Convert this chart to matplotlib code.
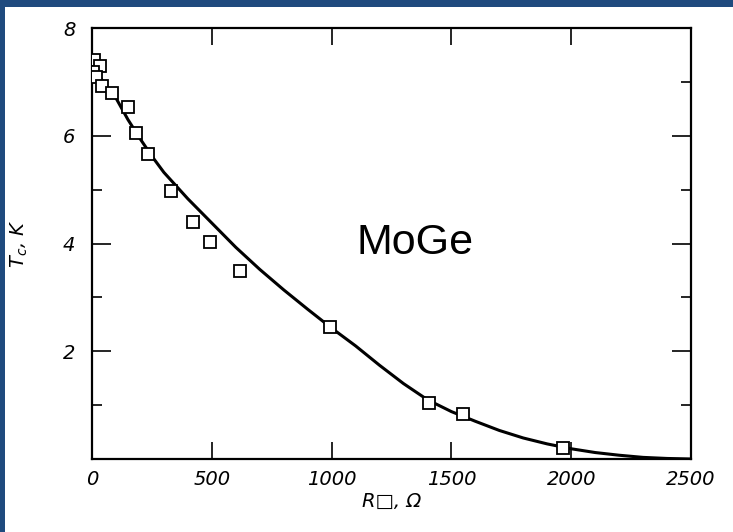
import matplotlib
matplotlib.use("Agg")
import matplotlib.pyplot as plt
from matplotlib.patches import Rectangle

# measured squares (sheet resistance in ohm, Tc in K)
r_points = [8, 33, 4, 17, 42, 83, 150, 184, 234, 330, 422, 493, 618, 993, 1406, 1548, 1966]
tc_points = [7.40, 7.29, 7.18, 7.09, 6.92, 6.79, 6.53, 6.05, 5.66, 4.97, 4.40, 4.03, 3.49, 2.45, 1.04, 0.83, 0.21]

# fitted curve
r_curve = [0, 50, 100, 150, 200, 250, 300, 400, 500, 600, 700, 800, 900, 1000, 1100, 1200,
           1300, 1400, 1500, 1600, 1700, 1800, 1900, 2000, 2100, 2200, 2300, 2400, 2500]
tc_curve = [7.3, 6.98, 6.7, 6.3, 5.95, 5.62, 5.32, 4.83, 4.38, 3.93, 3.52, 3.14, 2.78, 2.43, 2.1, 1.74,
            1.4, 1.1, 0.88, 0.7, 0.53, 0.39, 0.28, 0.19, 0.12, 0.07, 0.03, 0.01, 0.0]

x_ticks = [0, 500, 1000, 1500, 2000, 2500]
y_ticks = [0, 2, 4, 6, 8]
y_labels = ["", "2", "4", "6", "8"]

tick_font = ["DejaVu Sans"]

fig = plt.figure(figsize=(7.33, 5.32), dpi=100)
fig.patch.set_facecolor("white")

# blue frame strips (top and left)
fig.patches.append(Rectangle((0, 1 - 7 / 532), 1, 7 / 532, transform=fig.transFigure,
                             facecolor="#1f4a7e", edgecolor="none"))
fig.patches.append(Rectangle((0, 0), 5 / 733, 1, transform=fig.transFigure,
                             facecolor="#1f4a7e", edgecolor="none"))

ax = fig.add_axes([92 / 733, 1 - 459 / 532, (691 - 92) / 733, (459 - 28) / 532])

ax.plot(r_curve, tc_curve, color="black", lw=2.2, zorder=2)
ax.plot(r_points, tc_points, ls="none", marker="s", ms=9, mfc="white", mec="black", mew=1.3, zorder=3)

ax.set_xlim(0, 2500)
ax.set_ylim(0, 8)

ax.set_xticks(x_ticks)
ax.set_xticklabels([str(v) for v in x_ticks], fontstyle="italic", fontsize=14, family=tick_font)
ax.set_yticks(y_ticks)
ax.set_yticklabels(y_labels, fontstyle="italic", fontsize=14, family=tick_font)
ax.set_yticks([1, 3, 5, 7], minor=True)

ax.tick_params(axis="x", which="major", direction="in", length=12, width=1.2,
               top=True, pad=8)
ax.tick_params(axis="y", which="major", direction="in", length=14, width=1.2,
               right=True, pad=12)
ax.tick_params(axis="y", which="minor", direction="in", length=7, width=1.2, right=True)

for s in ax.spines.values():
    s.set_linewidth(1.6)

ax.set_xlabel("R\u25a1, \u03a9", fontsize=14, fontstyle="italic", family=tick_font, labelpad=2)
ax.set_ylabel("T$_c$, K", fontsize=14, fontstyle="italic", family=tick_font, labelpad=24)

ax.text(0.54, 0.5, "MoGe", transform=ax.transAxes, fontsize=31, family="Liberation Sans",
        ha="center", va="center")

fig.savefig("out.png", dpi=100)
